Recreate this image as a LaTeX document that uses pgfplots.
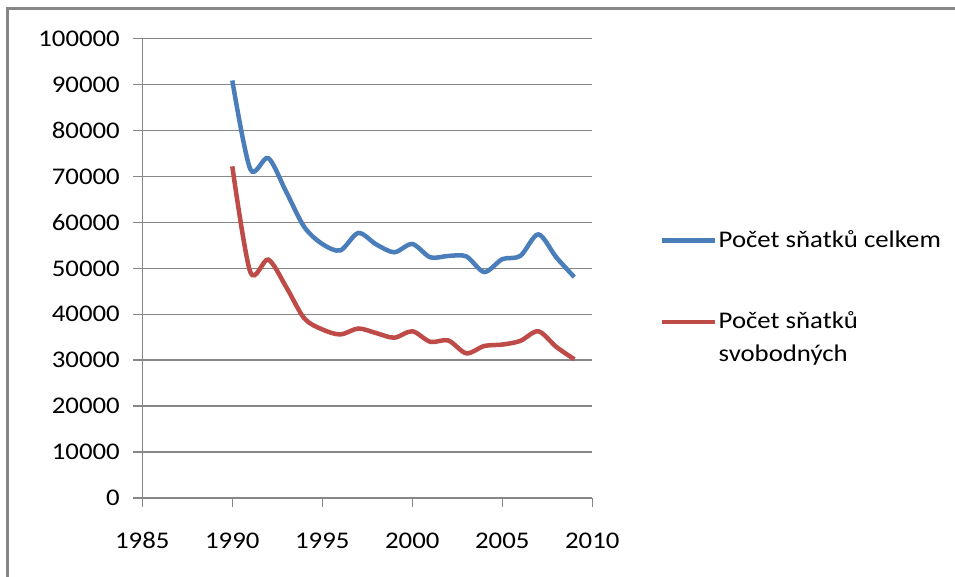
\documentclass[border=0pt]{standalone}
\usepackage{fontspec}
\setmainfont{Carlito}
\usepackage{graphicx}
\usepackage{pgfplots}
\pgfplotsset{compat=1.18}
\definecolor{excelblue}{HTML}{4A7EBB}
\definecolor{excelred}{HTML}{BE4B48}
\definecolor{gridgray}{HTML}{868686}
\newcommand{\wide}[1]{\scalebox{1.12}[1]{#1}}
\begin{document}
\begin{tikzpicture}[x=1bp,y=1bp]
\path[use as bounding box] (0,0) rectangle (955,577);
\draw[gridgray, line width=3bp] (7.5,0) -- (7.5,568) -- (955,568);
\begin{axis}[
  at={(142.3bp,79bp)}, anchor=south west,
  scale only axis, width=450bp, height=459.3bp,
  xmin=1985, xmax=2010, ymin=0, ymax=100000,
  xtick={1985,1990,...,2010},
  ytick={0,10000,...,100000},
  scaled ticks=false,
  /pgf/number format/fixed,
  /pgf/number format/precision=0,
  /pgf/number format/1000 sep={},
  /pgf/number format/assume math mode=true,
  xticklabel={\wide{\pgfmathprintnumber{\tick}}},
  yticklabel={\wide{\pgfmathprintnumber{\tick}}},
  axis x line*=bottom, axis y line*=left,
  axis line style={gridgray, line width=1.5bp},
  tick style={gridgray, line width=1.5bp},
  tick align=outside, major tick length=9bp,
  ymajorgrids, major grid style={gridgray, line width=1.5bp},
  tick label style={font=\fontsize{24}{29}\selectfont, text=black},
  yticklabel style={xshift=-10bp},
  xticklabel style={yshift=-22bp},
  legend cell align=left,
  legend style={at={(1.1504,0.5836)}, anchor=north west, draw=none, fill=none,
    inner sep=0pt, row sep=63bp, column sep=1bp,
    cells={anchor=base west},
    nodes={font=\fontsize{24}{33.3}\selectfont, inner sep=0pt}},
  legend image code/.code={\draw[#1, line width=4.5bp] (0bp,6.5bp) -- (53bp,6.5bp);},
]
\addplot[excelblue, line width=4.5bp, smooth, tension=0.5] coordinates {
(1990,90900) (1991,71600) (1992,74000) (1993,66600) (1994,59000)
(1995,55300) (1996,53900) (1997,57700) (1998,55200) (1999,53500)
(2000,55300) (2001,52400) (2002,52700) (2003,52600) (2004,49200)
(2005,52000) (2006,52700) (2007,57400) (2008,52400) (2009,48100)
};
\addlegendentry{\wide{Počet sňatků celkem}}
\addplot[excelred, line width=4.5bp, smooth, tension=0.5] coordinates {
(1990,72200) (1991,49200) (1992,51900) (1993,45900) (1994,39100)
(1995,36700) (1996,35600) (1997,36900) (1998,35900) (1999,34900)
(2000,36300) (2001,34000) (2002,34300) (2003,31500) (2004,33100)
(2005,33400) (2006,34200) (2007,36300) (2008,32900) (2009,30200)
};
\addlegendentry{\wide{\vtop{\hbox{Počet sňatků}\hbox{svobodných}}}}
\end{axis}
\end{tikzpicture}
\end{document}
